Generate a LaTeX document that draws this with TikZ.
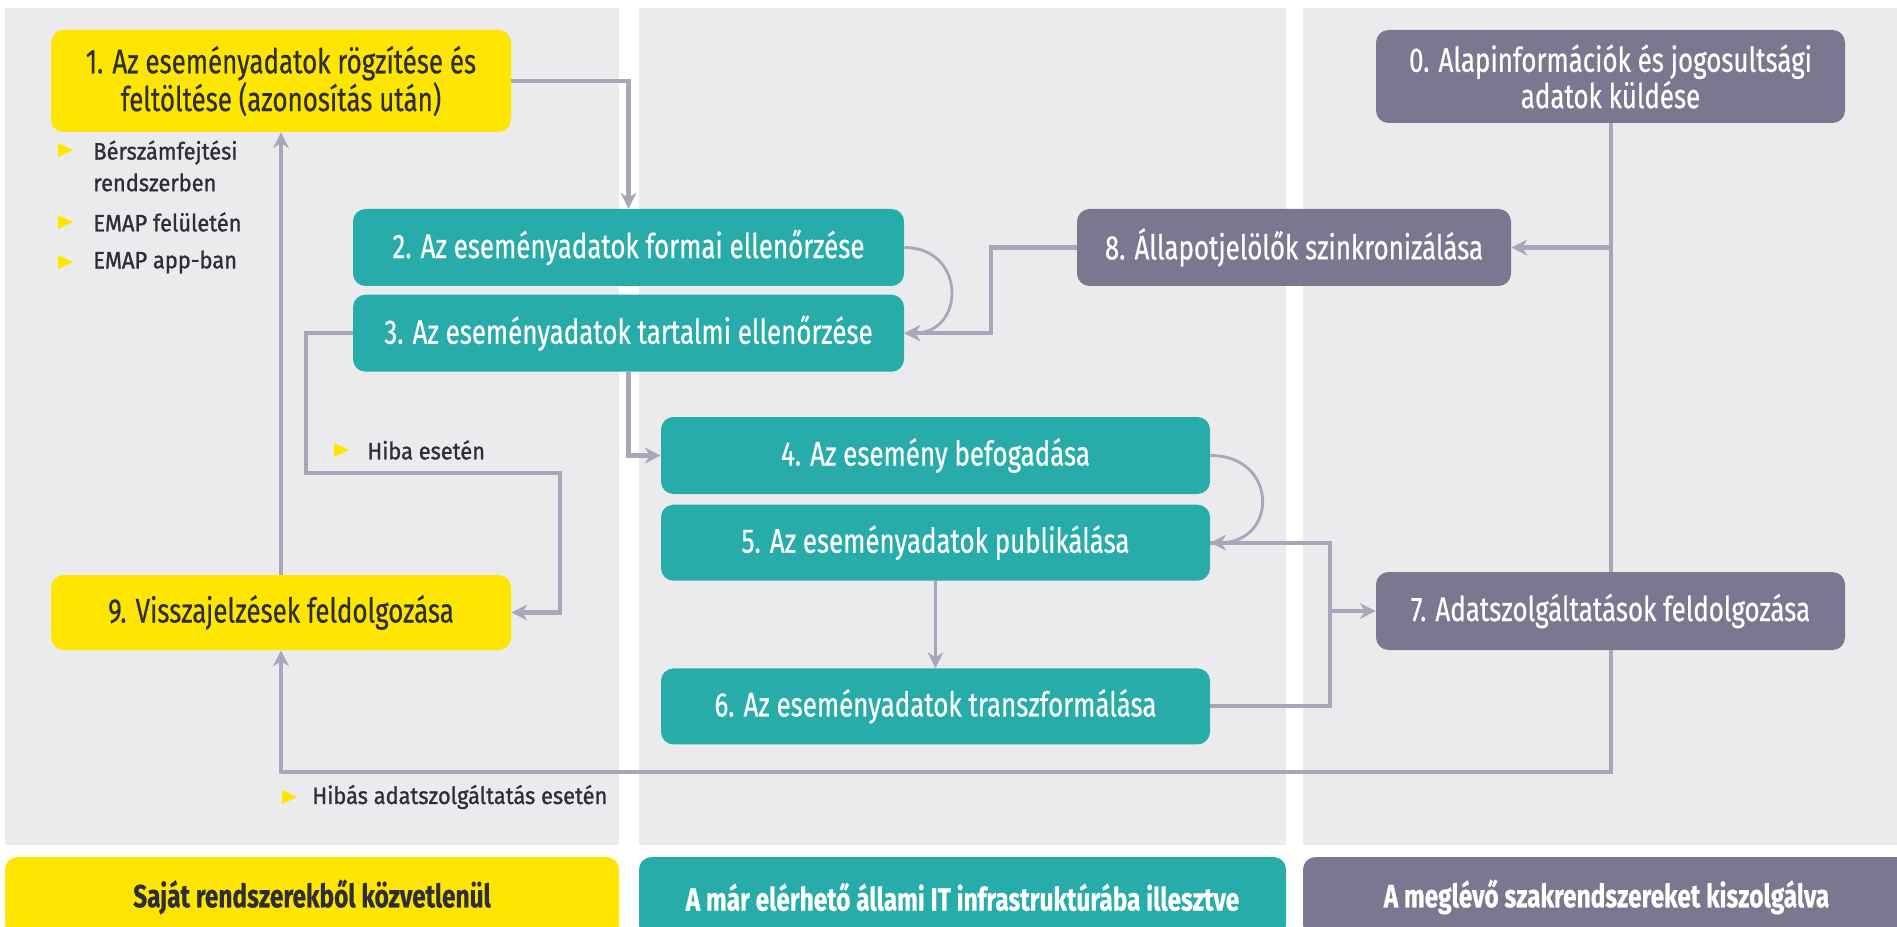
\documentclass[tikz,border=0pt]{standalone}
\usepackage{fontspec}
\setmainfont{Fira Sans}[FakeStretch=0.76, FakeBold=0.5]
\newfontfamily\notefont{Fira Sans}[FakeStretch=0.92, FakeBold=1.1]
\usepackage{xcolor}
\definecolor{EYYellow}{HTML}{FFE600}
\definecolor{EYTeal}{HTML}{27ACAA}
\definecolor{EYSlate}{HTML}{7A7891}
\definecolor{LaneGray}{HTML}{EBEBEE}
\definecolor{LinkGray}{HTML}{A8A7B9}
\definecolor{EYDark}{HTML}{2E2E38}
\usetikzlibrary{arrows.meta, positioning, calc}
\tikzset{
  % Box styles
  stepbase/.style={rectangle, rounded corners=0.25cm, minimum height=1.54cm, font=\fontsize{19.4}{18}\selectfont, align=center, inner sep=0pt},
  ownbox/.style={stepbase, fill=EYYellow, text=EYDark, minimum width=9.2cm},
  statebox/.style={stepbase, fill=EYTeal, text=white, minimum width=10.98cm},
  sectorbox/.style={stepbase, fill=EYSlate, text=white},
  lanebox/.style={rectangle, rounded corners=0.25cm, minimum height=1.6cm, font=\bfseries\fontsize{18.3}{18}\selectfont, inner sep=0pt},
  listtext/.style={font=\notefont\fontsize{13.5}{18}\selectfont, text=EYDark, align=left, inner sep=0pt, anchor=west},
  % Arrow styles
  arrow/.style={->, >={Stealth[length=9pt,width=9pt]}, line width=2.3pt, LinkGray},
  thinarrow/.style={arrow, line width=1.6pt},
  link/.style={line width=2.3pt, LinkGray}
}
\newcommand{\ytri}[1]{\fill[EYYellow] (#1) ++(0,0.14) -- ++(0.3,-0.14) -- ++(-0.3,-0.14) -- cycle;}

\begin{document}
\begin{tikzpicture}
  \useasboundingbox (0,0) rectangle (37.94,-18.54);
  \clip (0,0) rectangle (37.94,-18.54);

  % Lanes
  \fill[LaneGray] (0.1,-0.16) rectangle (12.38,-16.9);
  \fill[LaneGray] (12.78,-0.16) rectangle (25.72,-16.9);
  \fill[LaneGray] (26.06,-0.16) rectangle (38.2,-16.9);
  \node[lanebox, fill=EYYellow, text=EYDark, minimum width=12.28cm] (lane1) at (6.24,-17.94) {Saját rendszerekből közvetlenül};
  \node[lanebox, fill=EYTeal, text=white, minimum width=12.94cm] (lane2) at (19.25,-17.94) {A már elérhető állami IT infrastruktúrába illesztve};
  \node[lanebox, fill=EYSlate, text=white, minimum width=12.14cm] (lane3) at (32.13,-17.94) {A meglévő szakrendszereket kiszolgálva};

  % Own systems
  \node[ownbox, minimum height=2.04cm] (n1) at (5.62,-1.62) {1. Az eseményadatok rögzítése és\\feltöltése (azonosítás után)};
  \node[ownbox, minimum height=1.5cm] (n9) at (5.62,-12.25) {9. Visszajelzések feldolgozása};

  % State IT infrastructure
  \node[statebox, minimum width=11.02cm] (n2) at (12.57,-4.95) {2. Az eseményadatok formai ellenőrzése};
  \node[statebox, minimum width=11.02cm, below=0.16cm of n2] (n3) {3. Az eseményadatok tartalmi ellenőrzése};
  \node[statebox] (n4) at (18.71,-9.11) {4. Az esemény befogadása};
  \node[statebox, minimum height=1.52cm, below=0.2cm of n4] (n5) {5. Az eseményadatok publikálása};
  \node[statebox, minimum height=1.52cm, below=1.74cm of n5] (n6) {6. Az eseményadatok transzformálása};

  % Sector systems
  \node[sectorbox, minimum width=9.38cm, minimum height=1.86cm] (n0) at (32.21,-1.53) {0. Alapinformációk és jogosultsági\\adatok küldése};
  \node[sectorbox, minimum width=8.68cm] (n8) at (25.88,-4.95) {8. Állapotjelölők szinkronizálása};
  \node[sectorbox, minimum width=9.38cm, minimum height=1.56cm] (n7) at (32.21,-12.22) {7. Adatszolgáltatások feldolgozása};

  % Notes
  \ytri{1.16,-3.0}
  \node[listtext] (note1) at (1.86,-3.32) {Bérszámfejtési\\rendszerben};
  \ytri{1.16,-4.44}
  \node[listtext] (note2) at (1.86,-4.44) {EMAP felületén};
  \ytri{1.16,-5.24}
  \node[listtext] (note3) at (1.86,-5.24) {EMAP app-ban};
  \ytri{6.68,-9.0}
  \node[listtext] (hiba) at (7.34,-9.0) {Hiba esetén};
  \ytri{5.64,-15.94}
  \node[listtext] (hibas) at (6.24,-15.94) {Hibás adatszolgáltatás esetén};

  % Arrows
  \coordinate (join) at ($(n7.west)+(-0.92,0)$);
  \coordinate (hibaturn) at (11.2,-9.46);
  \draw[arrow] (n1.east) -| (n2.north);
  \draw[thinarrow] (n2.east) to[out=0, in=0, looseness=1.85] (n3.east);
  \draw[arrow] (n8.west) -- ++(-1.72,0) |- (n3.east);
  \draw[arrow] (n3.south) |- (n4.west);
  \draw[thinarrow] (n4.east) to[out=0, in=0, looseness=2] (n5.east);
  \draw[thinarrow] (n5.south) -- (n6.north);
  \draw[arrow] (n5.east) -| (join) -- (n7.west);
  \draw[link] (n6.east) -| (join);
  \draw[link] (n0.south) -- (n7.north);
  \draw[arrow] (n0.south |- n8.east) -- (n8.east);
  \draw[arrow] (n7.south) -- ++(0,-2.44) -| (n9.south);
  \draw[arrow] (n9.north) -- (n1.south);
  \draw[arrow] (n3.west) -- ++(-0.94,0) |- (hibaturn) |- (n9.east);
\end{tikzpicture}
\end{document}
